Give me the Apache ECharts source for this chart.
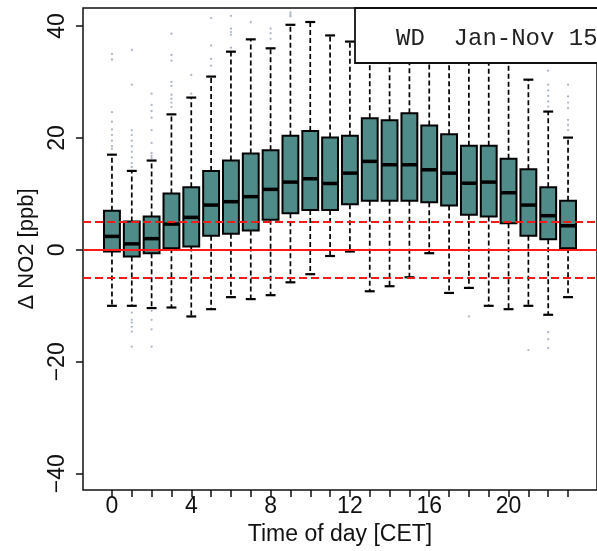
<!DOCTYPE html>
<html><head><meta charset="utf-8">
<script src="https://cdn.jsdelivr.net/npm/echarts@6/dist/echarts.min.js"></script>
<style>html,body{margin:0;padding:0;background:#fff}#c{width:597px;height:551px}</style>
</head><body><div id="c"></div>
<script>
const hours = [0,1,2,3,4,5,6,7,8,9,10,11,12,13,14,15,16,17,18,19,20,21,22,23];
const lowerWhisker = [-10.0,-10.0,-10.4,-10.3,-11.9,-10.6,-8.45,-8.8,-8.1,-5.8,-4.35,-1.1,-0.3,-7.4,-6.5,-4.9,-0.6,-7.7,-6.8,-10.0,-10.6,-10.0,-11.6,-8.45];
const q1 = [-0.3,-1.2,-0.6,0.3,0.6,2.5,2.86,3.45,5.36,6.55,7.1,7.1,8.15,8.75,8.75,8.75,8.5,7.9,6.25,5.95,4.75,2.5,1.9,0.3];
const median = [2.4,1.07,2.0,4.6,5.8,8.0,8.6,9.5,10.8,12.1,12.7,11.85,13.7,15.8,15.2,15.2,14.3,13.7,11.9,12.1,10.2,8.0,6.1,4.3];
const q3 = [7.0,5.05,5.95,10.05,11.2,14.1,15.95,17.2,17.8,20.4,21.25,20.05,20.4,23.5,23.15,24.4,22.2,20.65,18.6,18.6,16.25,14.4,11.2,8.75];
const upperWhisker = [17.0,14.1,15.95,24.2,27.2,30.95,35.4,37.6,36.0,40.2,40.7,38.3,37.2,41,40,41,40,39,38,37,35,30.4,24.7,20.05];
const outliers = [
  [0,35],[0,34],[0,24.6],[0,22.9],[0,21.5],[0,20.5],[0,19.5],[0,18.5],[0,18],
  [1,35.7],[1,29.5],[1,21.4],[1,20.5],[1,19.5],[1,18.5],[1,17.5],[1,16.5],[1,15.5],[1,14.8],
  [1,-11.2],[1,-12.5],[1,-13],[1,-13.75],[1,-14.6],[1,-17.3],
  [2,27.9],[2,25.9],[2,24.8],[2,23.6],[2,21.4],[2,19.1],[2,17.3],[2,16.8],[2,16.4],
  [2,-10.9],[2,-12.5],[2,-14.2],[2,-17.3],
  [3,38.6],[3,34.8],[3,33.8],[3,30],[3,29.3],[3,27.7],[3,27],[3,26.3],[3,25.5],
  [4,31.25],[4,27.9],
  [5,41.4],[5,36.5],[5,34.1],[5,32.9],
  [6,41.8],[6,39.5],[6,38.9],[6,38.4],[6,36.1],
  [7,40.7],
  [8,39.5],[8,38.7],[8,37.7],
  [9,42.4],[9,42],[9,41.7],
  [18,-11.9],
  [21,-17.9],
  [22,32],[22,29.5],[22,28.5],[22,27.5],[22,26.5],[22,25.6],[22,-14.7],[22,-15.95],[22,-17.55],
  [23,29.5],[23,27.4],[23,26.3],[23,25.3],[23,23.2],[23,22.3],[23,21.4]
];
const xTickValues = hours;
const xLabelValues = [0,4,8,12,16,20];
const yTickValues = [-40,-20,0,20,40];
const refSolid = [0];
const refDashed = [-5,5];
const legendText = 'WD  Jan-Nov 15';

const boxData = hours.map((h,i)=>[h, lowerWhisker[i], q1[i], median[i], q3[i], upperWhisker[i]]);

const chart = echarts.init(document.getElementById('c'), null, {renderer:'canvas'});
const font = '"Liberation Sans", Arial, sans-serif';

function renderBox(params, api){
  const x = api.value(0);
  const lo = api.coord([x, api.value(1)]);
  const b1 = api.coord([x, api.value(2)]);
  const md = api.coord([x, api.value(3)]);
  const b3 = api.coord([x, api.value(4)]);
  const hi = api.coord([x, api.value(5)]);
  const half = api.size([0.8, 0])[0] / 2;
  const capHalf = api.size([0.5, 0])[0] / 2;
  const cx = lo[0];
  const dash = {stroke:'#000', lineWidth:1.7, lineDash:[5,3]};
  const cap = {stroke:'#000', lineWidth:2.2};
  return {type:'group', children:[
    {type:'line', shape:{x1:cx,y1:b3[1],x2:cx,y2:hi[1]}, style:dash},
    {type:'line', shape:{x1:cx,y1:b1[1],x2:cx,y2:lo[1]}, style:dash},
    {type:'line', shape:{x1:cx-capHalf,y1:hi[1],x2:cx+capHalf,y2:hi[1]}, style:cap},
    {type:'line', shape:{x1:cx-capHalf,y1:lo[1],x2:cx+capHalf,y2:lo[1]}, style:cap},
    {type:'rect', shape:{x:cx-half, y:b3[1], width:2*half, height:b1[1]-b3[1]}, style:{fill:'#4f8b88', stroke:'#000', lineWidth:2}},
    {type:'line', shape:{x1:cx-half,y1:md[1],x2:cx+half,y2:md[1]}, style:{stroke:'#000', lineWidth:3.5}}
  ]};
}

const refLines = refSolid.map(v=>({yAxis:v, lineStyle:{type:'solid'}}))
  .concat(refDashed.map(v=>({yAxis:v, lineStyle:{type:[8,4]}})));

chart.setOption({
  animation:false,
  backgroundColor:'#fff',
  grid:{left:83, top:8, width:525, height:482, show:true, borderColor:'#111', borderWidth:1.5, backgroundColor:'transparent'},
  xAxis:{
    type:'value', min:-1.46, max:24.46, position:'bottom',
    name:'Time of day [CET]', nameLocation:'middle', nameGap:33,
    nameTextStyle:{fontFamily:font, fontSize:23, color:'#111'},
    axisLine:{show:false, onZero:false},
    splitLine:{show:false},
    axisTick:{show:true, customValues:xTickValues, length:7, lineStyle:{color:'#111', width:1.5}},
    axisLabel:{show:true, customValues:xLabelValues, margin:5, fontFamily:font, fontSize:23, color:'#111'}
  },
  yAxis:{
    type:'value', min:-42.9, max:43.2, position:'left',
    name:'\u0394 NO2 [ppb]', nameLocation:'middle', nameGap:44,
    nameTextStyle:{fontFamily:font, fontSize:22, color:'#111'},
    axisLine:{show:false, onZero:false},
    splitLine:{show:false},
    axisTick:{show:true, customValues:yTickValues, length:7, lineStyle:{color:'#111', width:1.5}},
    axisLabel:{show:true, customValues:yTickValues, rotate:90, margin:14, fontFamily:font, fontSize:23, color:'#111',
      formatter:v=>String(v).replace('-', '\u2212')}
  },
  series:[
    {type:'custom', renderItem:renderBox, data:boxData, encode:{x:0, y:[1,2,3,4,5]}, z:2, silent:true, clip:false},
    {type:'scatter', data:outliers, symbol:'circle', symbolSize:2.3, itemStyle:{color:'#9aa5b8'}, z:1, silent:true},
    {type:'line', data:[], z:5, silent:true,
      markLine:{symbol:'none', silent:true, label:{show:false}, animation:false,
        lineStyle:{color:'#ff1a1a', width:1.9}, data:refLines}}
  ],
  graphic:[
    {type:'rect', x:355, y:8, shape:{x:0,y:0,width:260,height:55}, style:{fill:'#fff', stroke:'#111', lineWidth:1.8}, z:100},
    {type:'text', x:396, y:39, style:{text:legendText, font:'24px "Liberation Mono", "DejaVu Sans Mono", monospace', fill:'#222', verticalAlign:'middle'}, z:101}
  ]
});
</script>
</body></html>
